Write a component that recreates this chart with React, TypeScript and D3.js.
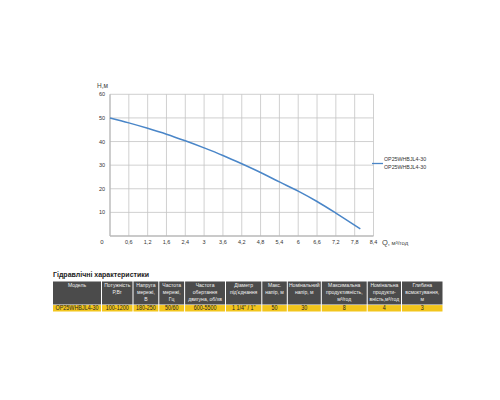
import React from "react";
import * as d3 from "d3";

const flowValues = [0, 0.6, 1.2, 1.8, 2.4, 3.0, 3.6, 4.2, 4.8, 5.4, 6.0, 6.6, 7.2, 7.98];
const headValues = [50, 47.9, 45.6, 43.1, 40.3, 37.3, 34.1, 30.6, 26.9, 22.9, 19.0, 14.6, 9.7, 3];
const xTickValues = [0.6, 1.2, 1.8, 2.4, 3.0, 3.6, 4.2, 4.8, 5.4, 6.0, 6.6, 7.2, 7.8, 8.4];
const xTickLabels = ["0,6", "1,2", "1,6", "2,4", "3", "3,6", "4,2", "4,8", "5,4", "6", "6,6", "7,2", "7,8", "8,4"];
const yTickValues = [10, 20, 30, 40, 50, 60];
const seriesNames = ["OP25WHBJL4-30", "OP25WHBJL4-30"];

const tableTitle = "Гідравлічні характеристики";
const headerLines = [
  ["Модель"],
  ["Потужність", "Р,Вт"],
  ["Напруга", "мережі,", "В"],
  ["Частота", "мережі,", "Гц"],
  ["Частота", "обертання", "двигуна, об/хв"],
  ["Діаметр", "під'єднання"],
  ["Макс.", "напір, м"],
  ["Номінальний", "напір, м"],
  ["Максимальна", "продуктивність,", "м³/год"],
  ["Номінальна", "продукти-", "вність,м³/год"],
  ["Глибина", "всмоктування,", "м"],
];
const rowValues = ["OP25WHBJL4-30", "100-1200", "180-250", "50/60", "600-5500", "1 1/4\" / 1\"", "50", "30", "8", "4", "3"];
const columnEdges = [53, 101.5, 133, 158.8, 184.6, 225.5, 261.8, 287.3, 321.3, 367.2, 401.5, 443];

export default function App() {
  const x = d3.scaleLinear().domain([0, 8.4]).range([110, 373.5]);
  const y = d3.scaleLinear().domain([0, 60]).range([236, 94.3]);
  const line = d3
    .line<number>()
    .x((_, i) => x(flowValues[i]))
    .y((d) => y(d))
    .curve(d3.curveMonotoneX);
  const font = "'Liberation Sans', Arial, sans-serif";
  const headTop = 281.5;
  const headBottom = 304.5;
  const rowBottom = 311.5;

  return (
    <svg width={500} height={400} style={{ position: "absolute", left: 0, top: 0, background: "#fff" }}>
      <rect x={0} y={0} width={500} height={400} fill="#fff" />
      {yTickValues.map((v) => (
        <line key={"gy" + v} x1={x(0)} x2={x(8.4)} y1={y(v)} y2={y(v)} stroke="#c4c4c4" strokeWidth={0.8} />
      ))}
      {xTickValues.map((v) => (
        <line key={"gx" + v} x1={x(v)} x2={x(v)} y1={y(0)} y2={y(60)} stroke="#c4c4c4" strokeWidth={0.8} />
      ))}
      <line x1={x(0)} x2={x(0)} y1={y(0)} y2={y(60)} stroke="#b8b8b8" strokeWidth={1.4} />
      <line x1={x(0)} x2={x(8.4)} y1={y(0)} y2={y(0)} stroke="#b8b8b8" strokeWidth={1.4} />
      {yTickValues.map((v) => (
        <text key={"ly" + v} x={102} y={y(v) + 2} fontSize={5.5} fill="#333" textAnchor="middle" fontFamily={font}>
          {v}
        </text>
      ))}
      <text x={102} y={244} fontSize={6} fill="#333" textAnchor="middle" fontFamily={font}>0</text>
      {xTickValues.map((v, i) => (
        <text key={"lx" + v} x={x(v)} y={244} fontSize={5.5} fill="#333" textAnchor="middle" fontFamily={font}>
          {xTickLabels[i]}
        </text>
      ))}
      <text x={97} y={88} fontSize={6.5} fill="#444" fontFamily={font}>H,м</text>
      <text x={382} y={244.5} fontSize={6} fill="#444" fontFamily={font}>
        <tspan fontSize={7.5}>Q,</tspan> м³/год
      </text>
      <path d={line(headValues) || ""} fill="none" stroke="#4a86c8" strokeWidth={1.5} />
      <line x1={372} x2={383} y1={163.5} y2={163.5} stroke="#4a86c8" strokeWidth={1.3} />
      {seriesNames.map((s, i) => (
        <text key={"lg" + i} x={384} y={161 + i * 7.5} fontSize={5.3} fill="#333" fontFamily={font}>
          {s}
        </text>
      ))}
      <text x={53} y={277} fontSize={7} fontWeight="bold" fill="#222" fontFamily={font}>{tableTitle}</text>
      {headerLines.map((lines, i) => {
        const x0 = columnEdges[i] + (i === 0 ? 0 : 0.5);
        const x1 = columnEdges[i + 1] - 0.5;
        const cx = (x0 + x1) / 2;
        return (
          <g key={"col" + i}>
            <rect x={x0} y={headTop} width={x1 - x0} height={headBottom - headTop} fill="#4b4b4b" />
            <rect x={x0} y={headBottom + 0.6} width={x1 - x0} height={rowBottom - headBottom - 0.6} fill="#f2c51c" />
            <g transform={`translate(${cx},0) scale(0.82,1)`}>
              {lines.map((t, j) => (
                <text key={j} x={0} y={headTop + 5.8 + j * 6.8} fontSize={6.2} fill="#f2f2f2" textAnchor="middle" fontFamily={font}>
                  {t}
                </text>
              ))}
              <text x={0} y={rowBottom - 1.3} fontSize={6.6} fill="#222" textAnchor="middle" fontFamily={font}>
                {rowValues[i]}
              </text>
            </g>
          </g>
        );
      })}
    </svg>
  );
}
